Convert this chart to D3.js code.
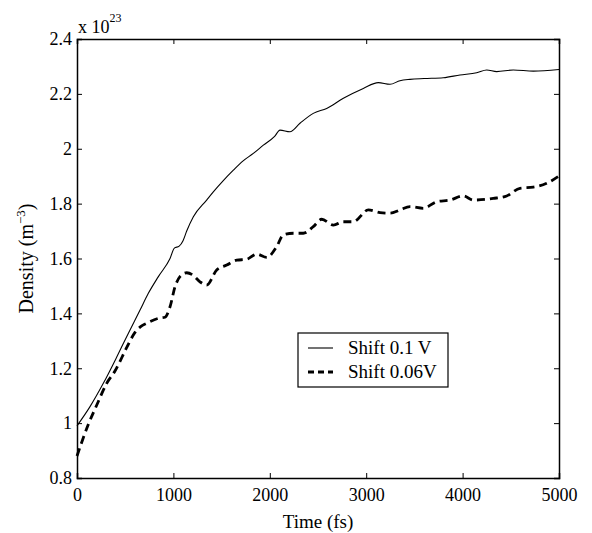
<!DOCTYPE html>
<html>
<head>
<meta charset="utf-8">
<script src="https://cdn.jsdelivr.net/npm/d3@7"></script>
<style>
  body { margin: 0; background: #fff; }
  svg text { font-family: "Liberation Serif", "DejaVu Serif", serif; fill: #000; }
</style>
</head>
<body>
<svg id="chart" width="592" height="533"></svg>
<script>
// time (fs) and density (x 1e23 m^-3)
var shift01Time = [0, 135, 273, 411, 532, 654, 740, 844, 965, 1010, 1060, 1100, 1138, 1207, 1345, 1414, 1520, 1622, 1720, 1829, 1933, 2050, 2106, 2209, 2313, 2451, 2590, 2763, 2970, 3126, 3247, 3350, 3454, 3600, 3800, 3973, 4146, 4250, 4354, 4526, 4734, 5000];
var shift01Val  = [0.99, 1.06, 1.145, 1.24, 1.327, 1.412, 1.473, 1.534, 1.60, 1.638, 1.645, 1.665, 1.70, 1.752, 1.813, 1.843, 1.885, 1.922, 1.955, 1.983, 2.013, 2.045, 2.068, 2.062, 2.093, 2.129, 2.147, 2.184, 2.220, 2.241, 2.235, 2.248, 2.253, 2.256, 2.259, 2.269, 2.277, 2.287, 2.281, 2.287, 2.283, 2.289];

var shift006Time = [0, 117, 204, 308, 394, 515, 600, 660, 723, 844, 913, 965, 1017, 1068, 1138, 1200, 1276, 1345, 1449, 1553, 1657, 1760, 1864, 1968, 2071, 2140, 2244, 2348, 2451, 2538, 2659, 2763, 2866, 3022, 3143, 3247, 3351, 3454, 3592, 3731, 3869, 4007, 4111, 4318, 4457, 4595, 4734, 4872, 5000];
var shift006Val  = [0.88, 0.995, 1.065, 1.145, 1.19, 1.275, 1.33, 1.352, 1.364, 1.382, 1.386, 1.424, 1.497, 1.534, 1.548, 1.54, 1.515, 1.503, 1.558, 1.576, 1.594, 1.597, 1.616, 1.604, 1.643, 1.686, 1.692, 1.692, 1.716, 1.743, 1.722, 1.734, 1.734, 1.777, 1.767, 1.765, 1.777, 1.789, 1.783, 1.807, 1.813, 1.828, 1.813, 1.819, 1.828, 1.856, 1.86, 1.874, 1.901];

var xTicks = [0, 1000, 2000, 3000, 4000, 5000];
var yTicks = [0.8, 1, 1.2, 1.4, 1.6, 1.8, 2, 2.2, 2.4];
var legendLabels = ['Shift 0.1 V', 'Shift 0.06V'];

var svg = d3.select('#chart');
var plotL = 77, plotR = 559, plotT = 39, plotB = 478;

var x = d3.scaleLinear().domain([0, 5000]).range([plotL, plotR]);
var y = d3.scaleLinear().domain([0.8, 2.4]).range([plotB, plotT]);

var series = [
    { pts: d3.zip(shift01Time, shift01Val), width: 1.1, dash: null },
    { pts: d3.zip(shift006Time, shift006Val), width: 2.8, dash: '8,5' }
];

var line = d3.line()
    .curve(d3.curveMonotoneX)
    .x(d => x(d[0]))
    .y(d => y(d[1]));

// curves
series.forEach(s => {
    svg.append('path')
        .attr('d', line(s.pts))
        .attr('fill', 'none')
        .attr('stroke', '#000')
        .attr('stroke-width', s.width)
        .attr('stroke-dasharray', s.dash);
});

// axes: ticks inside on all four sides
var tickLen = 5;
svg.append('g')
    .attr('transform', 'translate(0,' + plotB + ')')
    .call(d3.axisBottom(x).tickValues(xTicks).tickSize(-tickLen).tickPadding(10).tickFormat(d3.format('d')));
svg.append('g')
    .attr('transform', 'translate(0,' + plotT + ')')
    .call(d3.axisTop(x).tickValues(xTicks).tickSize(-tickLen).tickFormat(''));
svg.append('g')
    .attr('transform', 'translate(' + plotL + ',0)')
    .call(d3.axisLeft(y).tickValues(yTicks).tickSize(-tickLen).tickPadding(5).tickFormat(d => String(+d.toFixed(1))));
svg.append('g')
    .attr('transform', 'translate(' + plotR + ',0)')
    .call(d3.axisRight(y).tickValues(yTicks).tickSize(-tickLen).tickFormat(''));

svg.selectAll('.domain').attr('stroke', '#000').attr('stroke-width', 1.5);
svg.selectAll('.tick line').attr('stroke', '#000');
svg.selectAll('.tick text').attr('font-size', 18).attr('font-family', '"Liberation Serif", serif');

// exponent label
var expo = svg.append('text')
    .attr('x', 78).attr('y', 33)
    .attr('font-size', 18);
expo.append('tspan').text('x 10');
expo.append('tspan').attr('font-size', 12).attr('dy', -11).text('23');

// axis titles
svg.append('text')
    .attr('x', (plotL + plotR) / 2).attr('y', 528)
    .attr('text-anchor', 'middle')
    .attr('font-size', 19)
    .text('Time (fs)');

var yl = svg.append('text')
    .attr('transform', 'translate(33,' + ((plotT + plotB) / 2) + ') rotate(-90)')
    .attr('text-anchor', 'middle')
    .attr('font-size', 20);
yl.append('tspan').text('Density (m');
yl.append('tspan').attr('font-size', 13).attr('dy', -8).text('\u22123');
yl.append('tspan').attr('dy', 8).text(')');

// legend
var lg = svg.append('g').attr('transform', 'translate(298,333)');
lg.append('rect')
    .attr('width', 150).attr('height', 54)
    .attr('fill', '#fff').attr('stroke', '#000').attr('stroke-width', 1.2);
series.forEach((s, i) => {
    var yy = 15 + i * 24;
    lg.append('line')
        .attr('x1', 10).attr('x2', 35).attr('y1', yy).attr('y2', yy)
        .attr('stroke', '#000')
        .attr('stroke-width', s.width)
        .attr('stroke-dasharray', s.dash ? '6,4' : null);
    lg.append('text')
        .attr('x', 50).attr('y', yy + 6)
        .attr('font-size', 19)
        .text(legendLabels[i]);
});
</script>
</body>
</html>
